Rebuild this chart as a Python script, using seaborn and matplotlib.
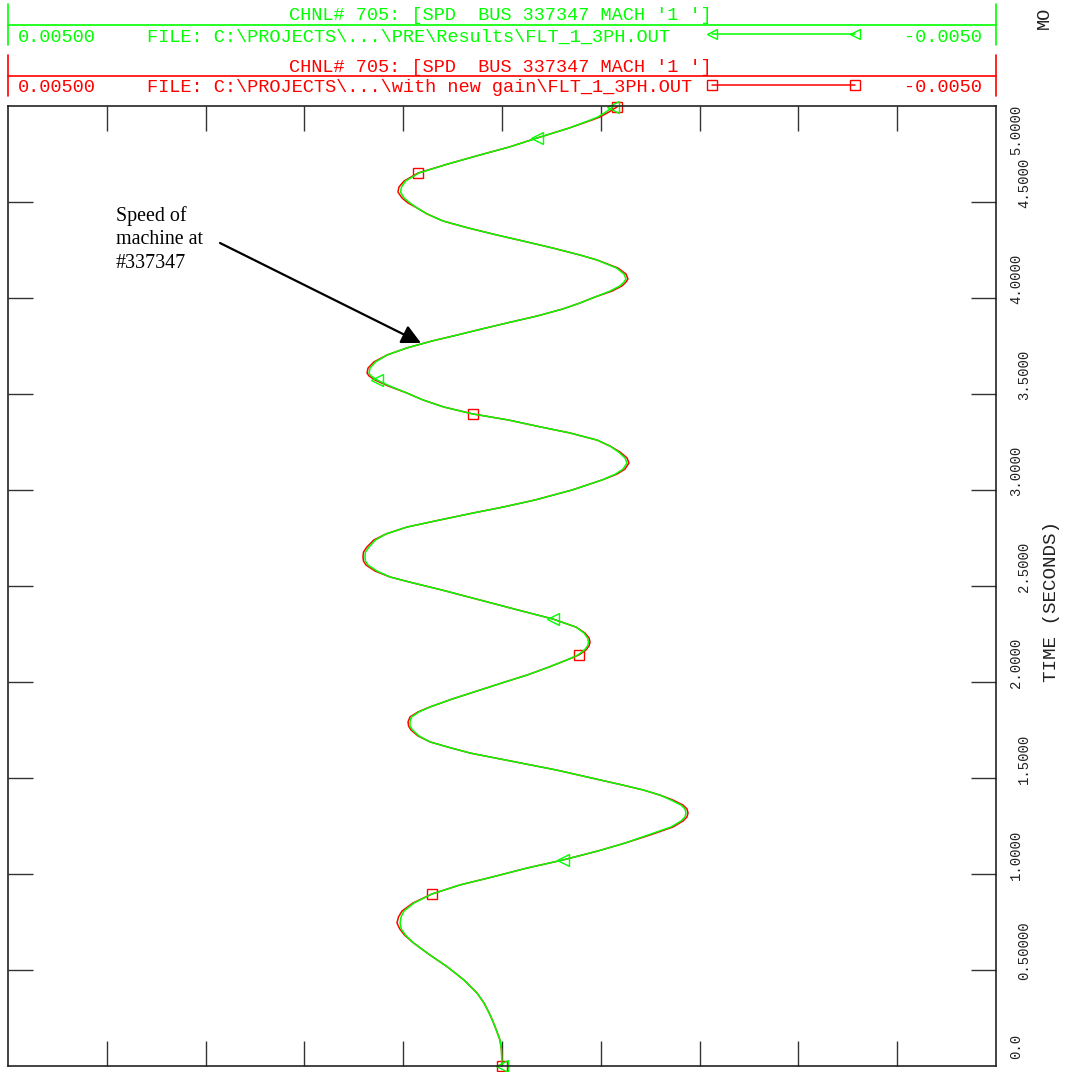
import numpy as np
import pandas as pd
import seaborn as sns
import matplotlib.pyplot as plt
from matplotlib import transforms

sns.set_style('white')
plt.rcParams['font.family'] = ['Liberation Mono', 'DejaVu Sans Mono']

# simulation time (s)
time_s = [
    0.000, 0.083, 0.135, 0.188, 0.240, 0.276, 0.328, 0.380, 0.448, 0.516, 0.578, 0.641, 0.682, 0.714, 0.745,
    0.776, 0.807, 0.849, 0.896, 0.943, 0.984, 1.031, 1.073, 1.120, 1.161, 1.203, 1.245, 1.276, 1.297, 1.318,
    1.339, 1.359, 1.385, 1.411, 1.438, 1.464, 1.490, 1.542, 1.589, 1.630, 1.661, 1.688, 1.719, 1.750, 1.771, 1.792,
    1.818, 1.844, 1.870, 1.911, 1.958, 2.000, 2.036, 2.078, 2.115, 2.141, 2.167, 2.188, 2.208,
    2.229, 2.255, 2.286, 2.328, 2.375, 2.427, 2.479, 2.516, 2.547, 2.578, 2.609, 2.630, 2.651,
    2.677, 2.703, 2.740, 2.771, 2.807, 2.844, 2.880, 2.911, 2.948, 3.000, 3.052, 3.083, 3.109, 3.141,
    3.167, 3.198, 3.229, 3.260, 3.297, 3.328, 3.365, 3.396, 3.432, 3.469, 3.505, 3.542, 3.573, 3.594, 3.609,
    3.635, 3.667, 3.703, 3.740, 3.776, 3.807, 3.839, 3.870, 3.906, 3.943, 3.974, 4.005, 4.036, 4.063, 4.083, 4.099,
    4.125, 4.156, 4.198, 4.224, 4.260, 4.292, 4.328, 4.365, 4.401, 4.438, 4.469, 4.495, 4.521, 4.552,
    4.578, 4.609, 4.651, 4.698, 4.745, 4.786, 4.833, 4.885, 4.927, 4.943, 4.969, 4.995,
]

# machine speed deviation, units of 1e-3 pu -- "with new gain" run (red)
spd_new_gain = [
    0.000, 0.005, 0.020, 0.058, 0.098, 0.130, 0.182, 0.253, 0.385, 0.552, 0.729, 0.896, 0.987, 1.035, 1.063,
    1.048, 1.012, 0.901, 0.709, 0.425, 0.101, -0.253, -0.617, -0.972, -1.245, -1.498, -1.731, -1.832, -1.872, -1.883,
    -1.872, -1.832, -1.731, -1.599, -1.427, -1.215, -0.992, -0.547, -0.081, 0.324, 0.547, 0.729, 0.850, 0.921, 0.946, 0.951,
    0.931, 0.850, 0.729, 0.506, 0.223, -0.030, -0.253, -0.476, -0.658, -0.779, -0.850, -0.881, -0.891,
    -0.881, -0.840, -0.749, -0.516, -0.162, 0.223, 0.607, 0.901, 1.134, 1.285, 1.376, 1.402, 1.407,
    1.402, 1.367, 1.296, 1.174, 0.962, 0.628, 0.294, -0.010, -0.334, -0.709, -1.012, -1.164, -1.245, -1.285,
    -1.265, -1.194, -1.093, -0.962, -0.688, -0.395, -0.061, 0.294, 0.587, 0.800, 0.962, 1.154, 1.285, 1.346, 1.366,
    1.356, 1.296, 1.164, 0.962, 0.709, 0.455, 0.202, -0.051, -0.354, -0.617, -0.789, -0.941, -1.113, -1.215, -1.255, -1.275,
    -1.255, -1.174, -0.962, -0.789, -0.516, -0.253, 0.051, 0.344, 0.597, 0.759, 0.860, 0.951, 1.012, 1.053,
    1.043, 0.992, 0.850, 0.547, 0.223, -0.071, -0.354, -0.678, -0.911, -0.992, -1.083, -1.164,
]

# same channel, PRE results run (green)
spd_pre = [
    0.000, 0.005, 0.020, 0.058, 0.098, 0.130, 0.182, 0.253, 0.385, 0.552, 0.729, 0.896, 0.977, 1.020, 1.032,
    1.022, 0.992, 0.891, 0.709, 0.425, 0.101, -0.253, -0.617, -0.972, -1.245, -1.478, -1.711, -1.812, -1.852, -1.862,
    -1.852, -1.812, -1.711, -1.599, -1.427, -1.215, -0.992, -0.547, -0.081, 0.324, 0.547, 0.729, 0.840, 0.906, 0.931, 0.931,
    0.916, 0.840, 0.729, 0.506, 0.223, -0.030, -0.253, -0.476, -0.658, -0.769, -0.835, -0.866, -0.876,
    -0.866, -0.830, -0.749, -0.516, -0.162, 0.223, 0.607, 0.901, 1.134, 1.265, 1.356, 1.382, 1.387,
    1.382, 1.346, 1.280, 1.174, 0.962, 0.628, 0.294, -0.010, -0.334, -0.709, -1.012, -1.149, -1.225, -1.265,
    -1.245, -1.179, -1.093, -0.962, -0.688, -0.395, -0.061, 0.294, 0.587, 0.800, 0.962, 1.139, 1.265, 1.326, 1.346,
    1.336, 1.280, 1.164, 0.962, 0.709, 0.455, 0.202, -0.051, -0.354, -0.617, -0.789, -0.941, -1.093, -1.194, -1.235, -1.255,
    -1.235, -1.159, -0.962, -0.789, -0.516, -0.253, 0.051, 0.344, 0.597, 0.759, 0.860, 0.931, 0.992, 1.027,
    1.017, 0.977, 0.840, 0.547, 0.223, -0.071, -0.354, -0.678, -0.896, -0.972, -1.053, -1.123,
]

# times where the curve symbols sit
new_gain_marks = [0.000, 0.896, 2.141, 3.396, 4.651, 4.995]
pre_marks = [0.000, 1.073, 2.328, 3.573, 4.833, 4.995]

time_ticks = [0.0, 0.5, 1.0, 1.5, 2.0, 2.5, 3.0, 3.5, 4.0, 4.5, 5.0]
time_labels = ['0.0', '0.50000', '1.0000', '1.5000', '2.0000', '2.5000',
               '3.0000', '3.5000', '4.0000', '4.5000', '5.0000']
spd_ticks = [-0.004, -0.003, -0.002, -0.001, 0.0, 0.001, 0.002, 0.003, 0.004]

title = "CHNL# 705: [SPD  BUS 337347 MACH '1 ']"
file_pre = r"FILE: C:\PROJECTS\...\PRE\Results\FLT_1_3PH.OUT"
file_new = r"FILE: C:\PROJECTS\...\with new gain\FLT_1_3PH.OUT"

df = pd.DataFrame({
    'time': time_s,
    'pre': np.array(spd_pre) * 1e-3,
    'new_gain': np.array(spd_new_gain) * 1e-3,
})

GREEN = '#00ff00'
RED = '#ff0000'
FRAME = '#222222'
W, H = 1066, 1072

fig = plt.figure(figsize=(W / 100, H / 100), dpi=100)
ax = fig.add_axes([8 / W, 6 / H, 988 / W, 960 / H])

idx_new = [time_s.index(t) for t in new_gain_marks]
idx_pre = [time_s.index(t) for t in pre_marks]

sns.lineplot(data=df, x='new_gain', y='time', sort=False, estimator=None, ax=ax,
             color=RED, linewidth=1.1, marker='s', markersize=7, markevery=idx_new,
             markerfacecolor='none', markeredgecolor=RED, markeredgewidth=1.0, clip_on=False)
sns.lineplot(data=df, x='pre', y='time', sort=False, estimator=None, ax=ax,
             color=GREEN, linewidth=1.1, marker='<', markersize=8, markevery=idx_pre,
             markerfacecolor='none', markeredgecolor=GREEN, markeredgewidth=1.0, clip_on=False)

ax.set_xlim(0.005, -0.005)
ax.set_ylim(0, 5)
ax.set_xticks(spd_ticks)
ax.set_yticks(time_ticks[1:-1])
ax.tick_params(direction='in', length=18, width=1, color='#333333',
               top=True, bottom=True, left=True, right=True,
               labelbottom=False, labelleft=False)
ax.set_xlabel('')
ax.set_ylabel('')
for sp in ax.spines.values():
    sp.set_color(FRAME)
    sp.set_linewidth(1.2)

# decoration layer in pixel coordinates
deco = fig.add_axes([0, 0, 1, 1], zorder=3)
deco.set_xlim(0, W)
deco.set_ylim(H, 0)
deco.axis('off')

for color, top, fname, mk in [(GREEN, 4, file_pre, '<'), (RED, 55, file_new, 's')]:
    deco.plot([8, 8], [top, top + 41], color=color, lw=1.2)
    deco.plot([996, 996], [top, top + 41], color=color, lw=1.2)
    deco.plot([8, 996], [top + 21, top + 21], color=color, lw=1.2)
    deco.text(500, top + 12, title, color=color, fontsize=13.4, ha='center', va='center')
    deco.text(18, top + 33, '0.00500', color=color, fontsize=13.4, ha='left', va='center')
    deco.text(147, top + 33, fname, color=color, fontsize=13.4, ha='left', va='center')
    deco.text(982, top + 33, '-0.0050', color=color, fontsize=13.4, ha='right', va='center')
    deco.plot([712, 855], [top + 30, top + 30], color=color, lw=1.1, marker=mk, markersize=7,
              markerfacecolor='none', markeredgecolor=color, markeredgewidth=1.0)

# rotated time labels on the right
trans = transforms.blended_transform_factory(deco.transData, ax.transData)
for i, (t, lab) in enumerate(zip(time_ticks, time_labels)):
    y = min(max(t + 0.1, 0.057), 4.875)
    x = 1016 if i % 2 == 0 else 1024
    deco.text(x, y, lab, transform=trans, rotation=90, ha='center', va='center',
              fontsize=10, color=FRAME)

deco.text(1052, 602, 'TIME (SECONDS)', rotation=90, ha='center', va='center',
          fontsize=13.9, color=FRAME)
deco.text(1044, 29, 'MO', rotation=90, ha='center', va='bottom', fontsize=13.4, color=FRAME)

# annotation
deco.text(116, 206, 'Speed of\nmachine at\n#337347', family='Liberation Serif',
          fontsize=14.4, ha='left', va='top', color='black', linespacing=1.32)
deco.annotate('', xy=(421, 343), xytext=(220, 243),
              arrowprops=dict(arrowstyle='-|>,head_length=0.58,head_width=0.29',
                              mutation_scale=20, lw=1.6, color='black',
                              shrinkA=0, shrinkB=0))

fig.savefig('out.png', dpi=100)
